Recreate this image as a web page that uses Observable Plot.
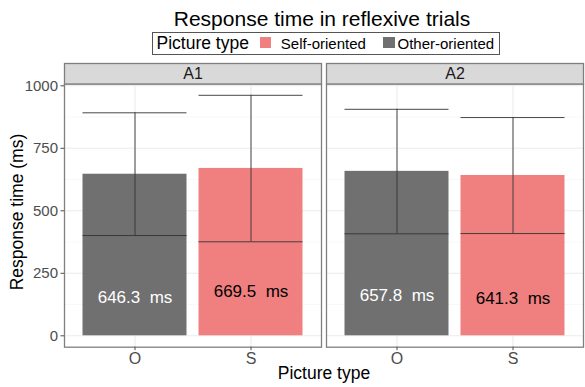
<!DOCTYPE html>
<html>
<head>
<meta charset="utf-8">
<script src="https://cdn.jsdelivr.net/npm/d3@7"></script>
<script src="https://cdn.jsdelivr.net/npm/@observablehq/plot@0.6"></script>
<style>
  html, body { margin: 0; padding: 0; background: #fff; }
  #wrap { position: relative; width: 585px; height: 387px; font-family: "Liberation Sans", Arial, sans-serif; overflow: hidden; }
  #wrap svg { position: absolute; left: 0; top: 0; }
  .ov { position: absolute; white-space: nowrap; color: #000; line-height: 1; }
  #title { left: 322px; top: 8.2px; font-size: 21px; transform: translateX(-50%); }
  #legend { left: 152px; top: 31.5px; width: 348px; height: 23.5px; border: 1px solid #555; box-sizing: border-box; }
  #legend .lt { position: absolute; left: 3.5px; top: 2.7px; font-size: 17.5px; }
  #legend .sw { position: absolute; top: 4.2px; width: 11.5px; height: 11px; }
  #legend .li { position: absolute; top: 3.1px; font-size: 15px; }
  #ylab { left: 18px; top: 212px; font-size: 17.5px; transform: translate(-50%, -50%) rotate(-90deg); }
  #xlab { left: 324px; top: 374px; font-size: 17.5px; transform: translate(-50%, -50%); }
</style>
</head>
<body>
<div id="wrap"></div>
<script>
// ---- data ----
const panels = ["A1", "A1", "A2", "A2"];
const pictureType = ["O", "S", "O", "S"];
const meanRT = [646.3, 669.5, 657.8, 641.3];
const lowerRT = [401, 376, 408, 409];
const upperRT = [892, 962, 906, 873];
const labelY = [153, 177, 161, 149];
const facetNames = ["A1", "A2"];
const typeDomain = ["O", "S"];
const yTicks = [0, 250, 500, 750, 1000];
const yMinorTicks = [125, 375, 625, 875];
const legendTitle = "Picture type";
const legendLabels = ["Self-oriented", "Other-oriented"];
const colorRange = ["#707070", "#f08080"]; // O, S

const rows = panels.map((p, i) => ({
  panel: p, type: pictureType[i], mean: meanRT[i],
  lo: lowerRT[i], hi: upperRT[i], ly: labelY[i],
  label: meanRT[i].toFixed(1) + "\u00a0\u00a0ms"
}));

// ---- layout ----
const W = 585, H = 387;
const mTop = 83.5, mBottom = 40.3, mLeft = 63.5, mRight = 1;
const panelH = H - mTop - mBottom;
const stripH = 20.5;
const font = '"Liberation Sans", Arial, sans-serif';

const chart = Plot.plot({
  width: W, height: H,
  marginTop: mTop, marginBottom: mBottom, marginLeft: mLeft, marginRight: mRight,
  style: { fontFamily: font, background: "transparent", overflow: "visible" },
  fx: { domain: facetNames, padding: 0.019, axis: null },
  x: { domain: typeDomain, paddingInner: 0.1, paddingOuter: 0.15, axis: null },
  y: { domain: [-45.6, 1007.2], axis: null },
  color: { domain: typeDomain, range: colorRange },
  marks: [
    Plot.gridY(yMinorTicks, { stroke: "#f2f2f2", strokeOpacity: 1, strokeWidth: 0.6 }),
    Plot.gridY(yTicks, { stroke: "#ebebeb", strokeOpacity: 1, strokeWidth: 1.1 }),
    Plot.gridX(typeDomain, { stroke: "#ebebeb", strokeOpacity: 1, strokeWidth: 1.1 }),
    Plot.barY(rows, { fx: "panel", x: "type", y: "mean", fill: "type" }),
    Plot.ruleX(rows, { fx: "panel", x: "type", y1: "lo", y2: "hi", stroke: "#333", strokeWidth: 0.9 }),
    Plot.tickY(rows, { fx: "panel", x: "type", y: "lo", stroke: "#333", strokeWidth: 0.9 }),
    Plot.tickY(rows, { fx: "panel", x: "type", y: "hi", stroke: "#333", strokeWidth: 0.9 }),
    Plot.text(rows, { fx: "panel", x: "type", y: "ly", text: "label", fontSize: 17,
      fill: d => d.type === "O" ? "#ffffff" : "#000000" }),
    Plot.frame({ stroke: "#7f7f7f", strokeWidth: 1.3 }),
    Plot.frame({ fill: "#d9d9d9", stroke: "#7f7f7f", strokeWidth: 1.3, insetTop: -stripH, insetBottom: panelH }),
    Plot.text(facetNames, { fx: d => d, text: d => d, frameAnchor: "top", lineAnchor: "middle",
      dy: -stripH / 2, fontSize: 16, fill: "#1a1a1a" }),
    Plot.axisY({ ticks: yTicks, tickFormat: d => String(d), tickSize: 3.5, tickPadding: 3,
      fontSize: 15, color: "#4d4d4d", label: null }),
    Plot.axisX({ tickSize: 3.5, tickPadding: 1.5, fontSize: 16, color: "#4d4d4d", label: null })
  ]
});

const wrap = document.getElementById("wrap");
wrap.appendChild(chart);

function addDiv(id, html) {
  const d = document.createElement("div");
  d.id = id; d.className = "ov"; d.innerHTML = html;
  wrap.appendChild(d);
  return d;
}
addDiv("title", "Response time in reflexive trials");
const lg = addDiv("legend", "");
lg.innerHTML =
  `<span class="lt">${legendTitle}</span>` +
  `<span class="sw" style="left:106.8px;background:${colorRange[1]}"></span>` +
  `<span class="li" style="left:127.8px">${legendLabels[0]}</span>` +
  `<span class="sw" style="left:230.4px;background:${colorRange[0]}"></span>` +
  `<span class="li" style="left:244.5px">${legendLabels[1]}</span>`;
addDiv("ylab", "Response time (ms)");
addDiv("xlab", "Picture type");
</script>
</body>
</html>
